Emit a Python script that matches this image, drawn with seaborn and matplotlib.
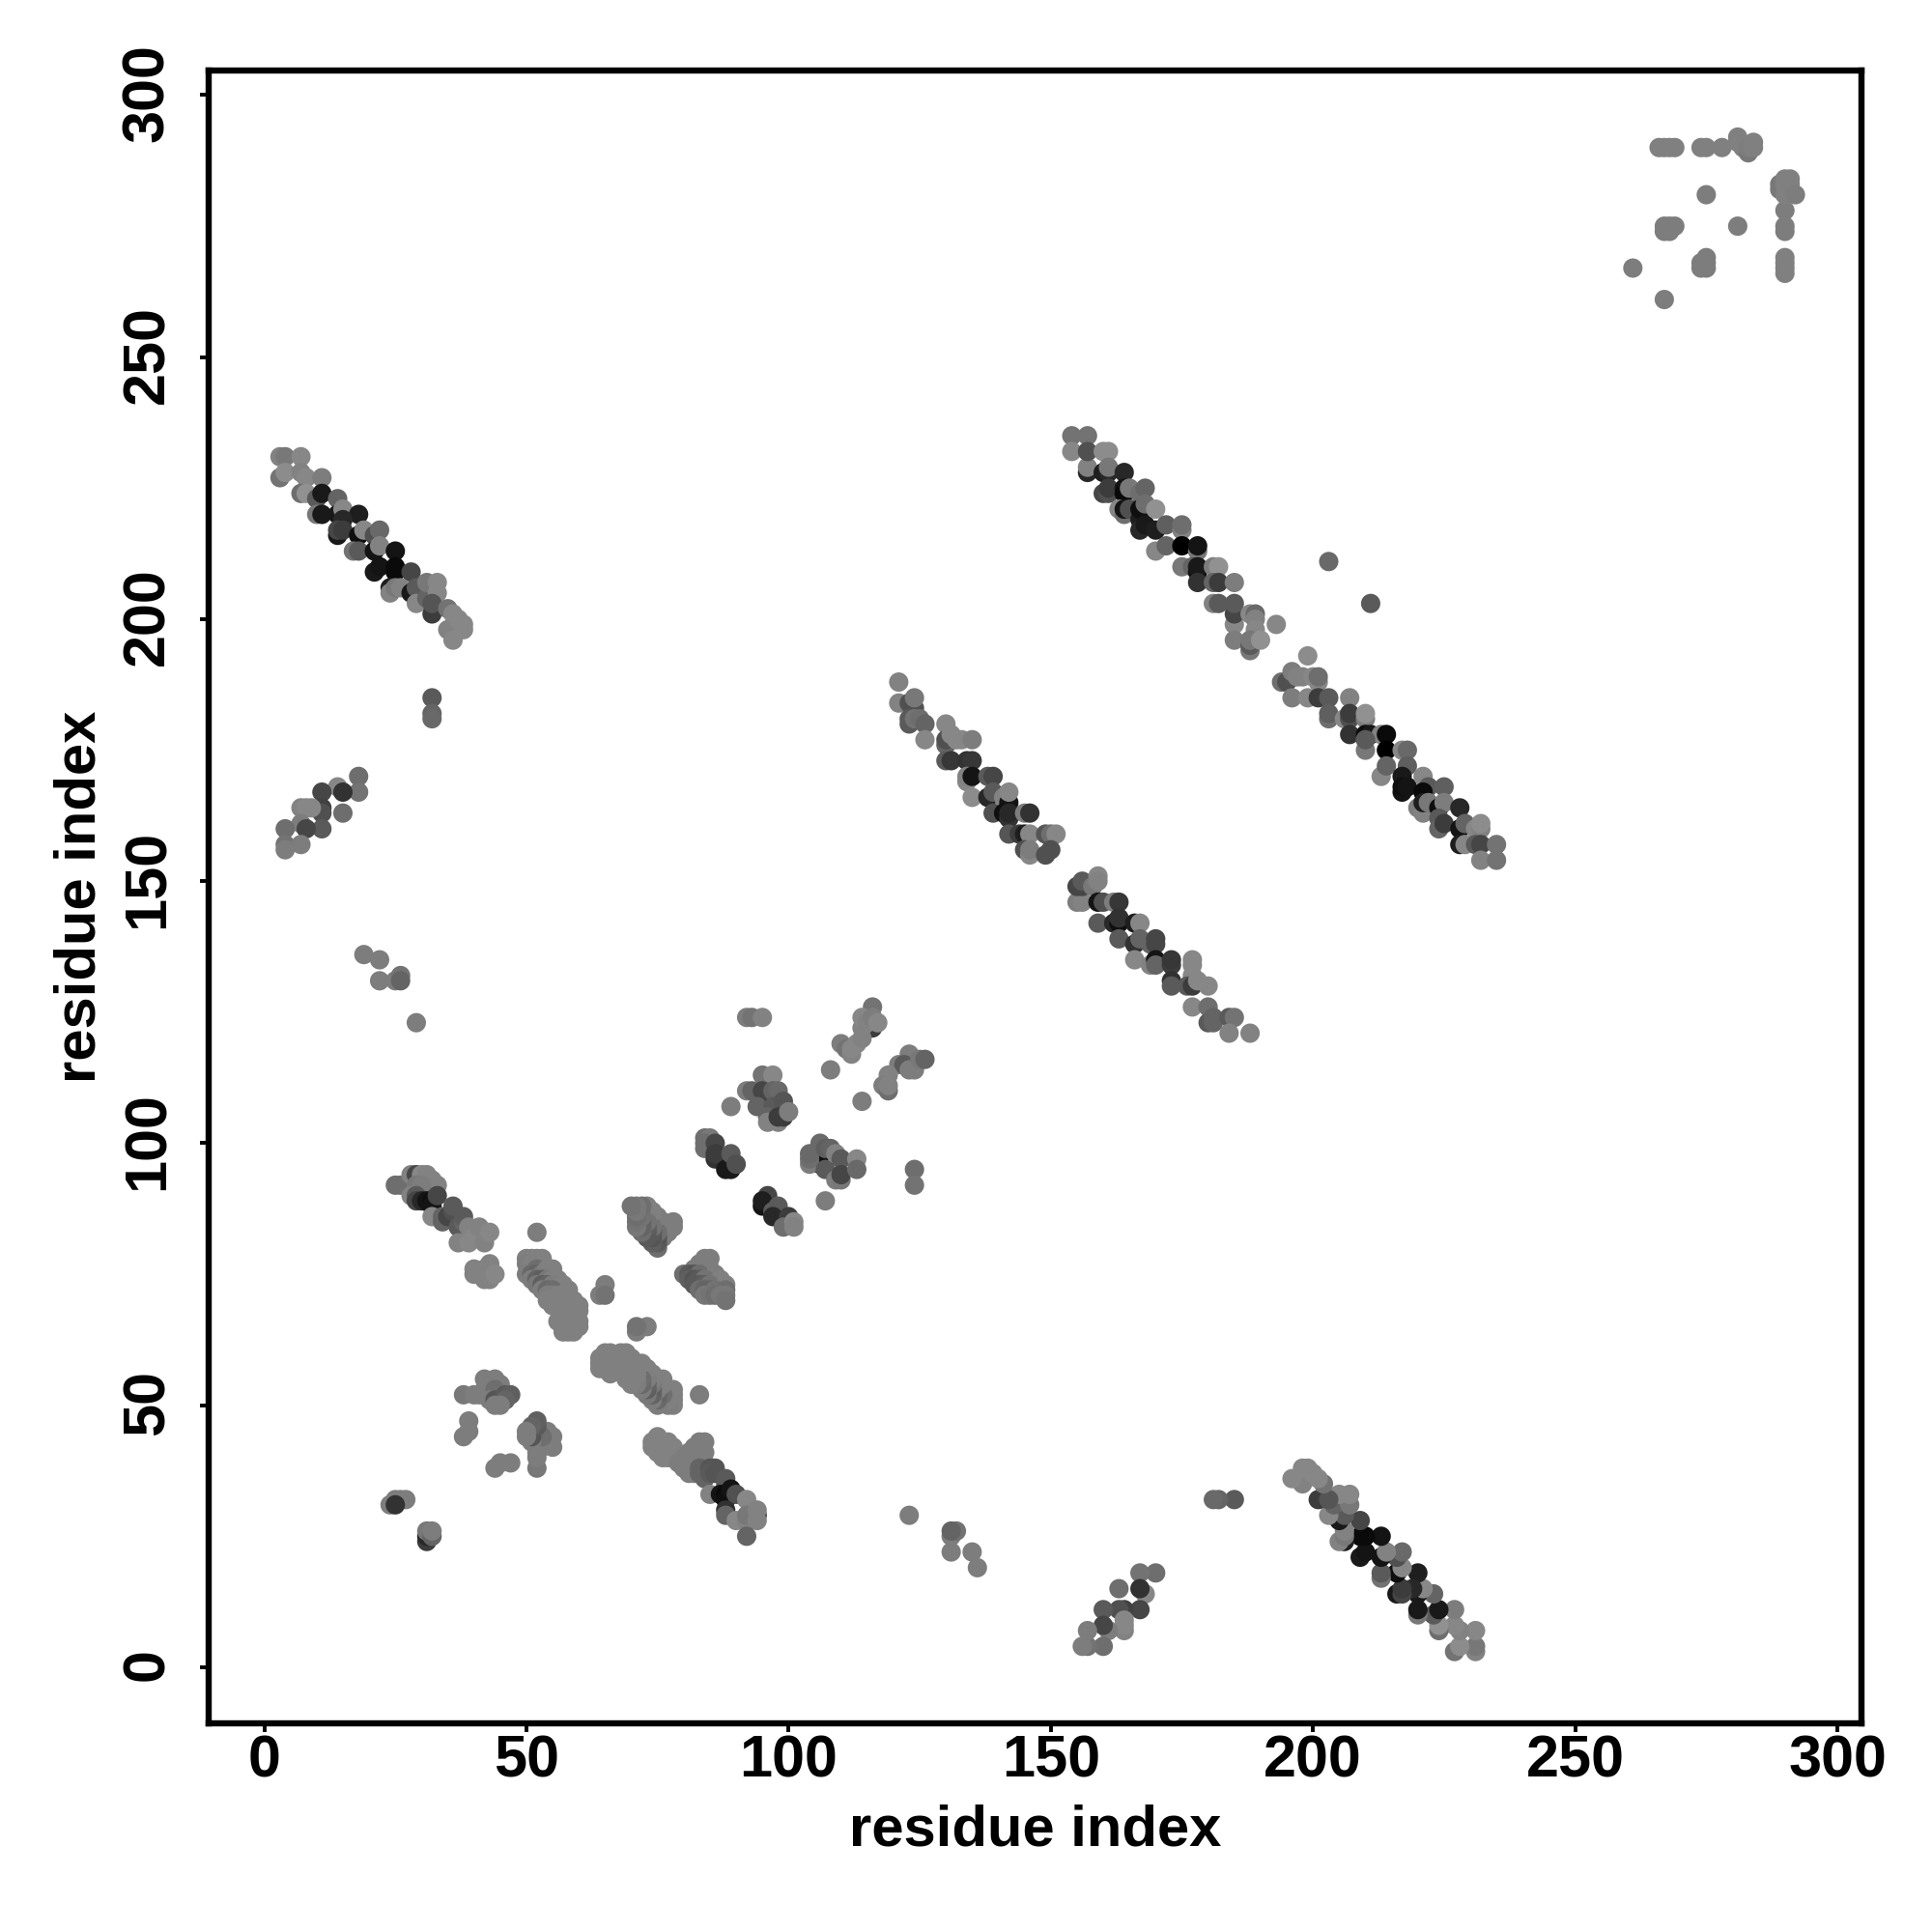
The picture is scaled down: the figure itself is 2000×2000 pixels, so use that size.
import pandas as pd
import matplotlib
matplotlib.use("Agg")
import matplotlib.pyplot as plt
from matplotlib.transforms import ScaledTranslation
import seaborn as sns

# (residue i, residue j, grey level)
strand_b = [(154,235,115),(157,235,115),(154,232,135),(157,228,40),(157,229,130),(157,232,80),(160,232,140),(161,232,140),
    (160,228,30),(161,228,40),(161,229,120),(164,228,40),(160,224,70),(161,224,80),(161,225,60),(164,225,20),(164,224,10),
    (165,225,120),(167,224,110),(168,225,100),(163,221,135),(164,220,110),(164,221,20),(165,221,80),(167,219,30),(167,217,40),
    (167,221,15),(168,218,25),(170,217,30),(168,222,110),(170,221,145),(172,218,95),(175,217,130),(175,218,110),
    (170,213,135),(172,214,100),(175,214,0),(178,213,120),(178,214,20),(175,210,120),(177,210,100),(178,209,15),(178,210,25),
    (181,210,125),(182,210,145),(178,207,50),(181,207,100),(182,207,60),(185,207,125),(181,203,130),(182,203,90),
    (185,199,135),(185,201,70),(185,203,90),(185,196,125),(188,201,135),(189,201,105),(189,200,130),(189,198,135),
    (188,194,120),(188,195,90),(188,196,120),(190,196,145),(193,199,135),(203,211,105),(211,203,90),(199,193,140),
    (194,188,110),(195,188,80),(196,190,125),(196,185,125),(197,189,130),(198,189,130),(200,189,135),(201,188,135),(201,189,110),
    (199,185,135),(201,185,60),(203,185,90),(203,181,110),(203,182,95),(207,185,130),(206,181,135),(207,181,80),(207,182,60),
    (210,181,125),(210,182,145),(207,178,50),(210,178,15),(211,178,25),(213,178,130),(214,178,10),(210,175,120),(210,177,90),
    (214,175,0),(213,170,135),(214,172,100),(217,175,135),(218,175,105),(218,172,95),(217,167,20),(217,170,25),(217,168,15),
    (218,168,20),(221,170,135),(222,168,90),(221,167,10),(225,168,95),(220,164,125),(221,163,130),(221,165,30),(222,165,120),
    (224,164,15),(225,165,125),(224,162,90),(224,160,100),(225,161,60),(228,164,40),(228,160,20),(229,161,100),(231,160,135),
    (232,160,130),(232,161,140),(228,157,30),(229,157,135),(231,157,90),(232,157,70),(235,157,115),(232,154,130),(235,154,115)]
strand_c = [(121,188,130),(121,184,130),(123,184,80),(124,183,80),(124,185,120),(123,180,90),(123,181,90),(124,181,115),
    (125,181,110),(126,180,100),(126,177,135),(130,180,135),(130,176,100),(130,177,80),(131,178,135),(132,177,135),
    (133,177,135),(135,177,125),(130,173,90),(131,173,55),(134,173,50),(135,173,55),(134,169,135),(134,170,130),(135,170,20),
    (135,166,140),(138,170,90),(139,170,70),(138,166,40),(139,167,90),(139,163,80),(141,166,130),(142,165,20),(142,167,135),
    (141,163,15),(142,162,50),(142,163,40),(145,163,125),(146,163,50),(142,159,85),(144,159,60),(145,159,30),(146,159,135),
    (145,156,80),(146,155,135),(146,156,125),(149,159,85),(150,159,110),(151,159,135),(149,155,80),(150,156,80),
    (155,146,125),(156,146,130),(155,149,70),(156,149,70),(156,150,90),(158,149,120),(159,151,135),(159,146,20),(159,150,130),
    (160,146,80),(159,142,90),(162,146,125),(163,146,55),(162,142,40),(163,142,15),(163,143,50),(163,139,90),
    (166,142,30),(167,142,135),(166,138,50),(167,139,100),(169,138,100),(170,138,70),(170,139,70),(166,135,135),
    (169,134,130),(170,135,20),(170,134,100),(173,134,60),(173,135,55),(173,131,50),(173,130,90),(177,135,135),(177,134,135),
    (177,132,135),(176,130,90),(177,130,60),(178,131,135),(180,130,135),(177,126,135),(180,126,110),(180,123,90),(181,123,100),
    (181,124,100),(184,124,90),(185,124,115),(184,121,130),(188,121,130)]
strand_d = [(25,92,110),(26,92,110),(28,94,130),(29,94,70),(30,94,135),(31,94,130),(32,93,130),(33,92,130),(29,92,120),
    (30,92,125),(28,90,130),(29,90,90),(29,89,70),(30,89,40),(31,89,20),(32,89,15),(32,88,20),(33,90,70),(32,86,135),
    (34,85,100),(34,86,100),(35,86,70),(36,87,80),(36,88,90),(37,84,90),(38,85,100),(38,86,90),(37,81,130),(39,84,130),
    (39,81,135),(40,82,135),(41,84,130),(42,81,130),(43,83,135),(40,76,130),(40,75,130),(41,75,130),(42,76,130),(42,74,130),
    (43,77,130),(43,76,130),(43,74,130),(44,75,135),
    (75,44,130),(74,43,130),(74,42,130),(75,43,130),(75,41,130),(76,43,130),(76,41,130),(77,43,130),(77,41,130),(78,42,130),
    (78,41,130),(76,40,130),(77,40,130),(78,40,130),(83,43,125),(84,43,125),(82,42,125),(83,42,125),(81,41,125),(82,41,125),
    (80,40,125),(81,40,125),(82,40,125),(84,41,125),(83,40,125),(84,39,125),(79,39,125),(80,39,125),(80,38,125),(81,38,125),
    (81,37,125),(82,37,125),(83,38,100),(83,37,100),(84,36,100),(85,38,85),(86,38,85),(85,37,90),(86,37,85),(88,36,90),
    (88,35,90),(85,33,130),(87,33,20),(88,33,10),(88,32,15),(89,34,20),(90,33,80),(88,30,50),(88,29,100),(90,28,135),
    (94,29,45),(92,32,135),(92,28,130),(92,29,120),(94,30,130),(94,28,130),(92,25,100)]
block_e = [(95,107,15),(106,96,15),(92,124,125),(93,124,115),(95,124,130),(116,126,115),(116,122,60),(114,122,130),(114,124,135),
    (115,123,130),(116,124,125),(117,123,135),(110,119,125),(111,118,115),(112,117,130),(112,118,135),(113,119,135),(114,120,130),
    (108,114,125),(114,108,125),(123,117,125),(121,115,125),(122,115,90),(123,114,125),(124,114,125),(125,116,120),(126,116,100),
    (119,113,130),(118,111,125),(119,110,110),(119,111,130),(95,113,115),(97,113,135),(92,110,125),(93,110,100),(95,110,70),
    (97,110,100),(98,110,105),(94,107,100),(97,107,90),(99,108,85),(96,105,100),(96,104,130),(98,104,130),
    (98,105,60),(99,105,60),(100,106,125),(89,107,125),
    (84,101,110),(85,101,120),(84,99,110),(84,100,110),(86,100,70),(86,97,50),(86,98,60),(88,95,25),(89,95,25),(89,98,90),(90,96,80),
    (104,96,125),(104,97,110),(104,98,105),(106,100,105),(107,99,95),(108,99,100),(107,95,90),(109,98,130),
    (110,97,90),(109,93,125),(110,93,120),(110,94,70),(113,97,135),(113,95,105),(124,95,110),(124,92,115),(107,89,125),
    (96,90,70),(95,88,20),(95,89,30),(98,88,90),(97,87,90),(97,86,40),(100,86,60),(99,84,110),(101,85,135),(101,84,130)]
corner_f = [(266,290,128),(267,290,128),(268,290,128),(269,290,128),(274,290,128),(275,290,128),(278,290,128),(281,292,128),
    (281,291,128),(282,290,128),(283,289,120),(283,290,125),(284,291,128),(284,290,128),(275,281,125),(281,275,125),
    (267,275,125),(267,274,125),(268,274,125),(268,275,125),(269,275,125),(275,269,125),(274,268,125),(275,268,125),
    (274,267,125),(275,267,125),(261,267,125),(267,261,125),(290,278,125),(290,275,125),(290,274,125),(290,269,128),
    (290,268,128),(290,267,128),(290,266,128),(289,283,120),(289,282,120),(290,284,128),(291,284,128),(290,283,128),
    (291,283,128),(291,282,128),(290,281,128),(292,281,125)]
small_g = [(24,31,125),(25,32,125),(26,32,125),(27,32,125),(25,31,50),(31,24,60),(31,25,40),(31,26,120),(32,25,100),(32,26,125)]

# these groups also get drawn with i and j swapped
strand_a = [(3,231,130),(4,231,120),(7,231,135),(3,227,115),(4,228,140),(7,228,130),(8,227,135),(11,227,125),
    (7,224,110),(8,224,145),(10,223,90),(11,224,25),(14,223,100),(10,220,120),(11,220,25),(14,220,25),(15,221,135),
    (18,220,30),(15,219,40),(14,216,25),(14,217,70),(15,217,60),(18,216,15),(19,217,135),(21,216,80),(22,217,105),
    (17,213,115),(18,213,90),(21,213,20),(22,214,130),(25,213,20),(21,209,25),(22,210,20),(25,210,10),(25,209,10),
    (28,209,70),(24,206,30),(24,205,130),(25,206,120),(26,206,130),(28,205,25),(29,206,90),(29,203,135),(31,204,100),
    (31,207,120),(33,207,135),(33,205,135),(32,201,60),(32,203,85),(35,202,115),(35,198,130),(36,196,135),(36,201,135),
    (37,200,135),(38,199,135),(38,198,135)]
strand_h = [(18,170,110),(18,167,115),(14,168,135),(15,167,50),(11,167,70),(11,164,65),(11,163,80),(11,160,90),(7,164,130),
    (8,164,135),(9,164,135),(15,163,110),(7,161,125),(8,160,70),(4,160,110),(4,157,115),(4,156,125),(7,157,125)]
scattered_i = [(32,185,90),(32,182,100),(32,181,105),(19,136,125),(22,135,125),(22,131,125),(25,131,125),(26,132,115),
    (26,131,100),(29,123,125),(65,73,125),(64,71,125),(65,71,115),(52,83,125)]
blob_j = [(38,52,120),(40,52,125),(41,52,125),(42,52,125),(42,53,125),(42,55,125),(43,54,125),(44,55,125),(45,54,125),
    (44,53,110),(43,51,125),(44,51,85),(45,51,85),(46,52,90),(47,52,95),(46,51,100),(44,50,125),(45,50,125),
    (39,47,125),(39,45,125),(38,44,125)]
blob_k = [(50,78,128),(51,78,128),(52,78,128),(53,78,128),(50,77,125),(51,77,128),(52,76,110),(50,75,125),(51,75,105),
    (52,75,100),(53,75,125),(54,76,128),(55,76,128),(51,74,125),(52,74,100),(53,74,95),(54,74,120),(55,74,128),(56,74,128),
    (52,73,120),(53,73,95),(54,73,100),(55,73,125),(57,73,128),(53,72,125),(54,72,105),(55,72,110),(58,72,128),(54,71,125),
    (55,71,125),(56,71,128),(58,71,128),(59,70,128),(54,70,128),(55,69,128),(56,69,128),(57,68,128),(60,69,128),(60,68,128),
    (59,67,128),(57,67,128),(58,66,128),(60,66,128),(56,66,128),(57,65,128),(58,65,128),(59,65,128),(60,65,128),(57,64,128),
    (58,64,128),(59,64,128)]
blob_l = [(84,78,125),(85,78,125),(83,77,125),(84,77,125),(82,76,125),(83,76,125),(85,76,125),(80,75,110),(81,75,90),(82,75,85),
    (83,75,110),(86,75,125),(81,74,95),(82,74,85),(83,74,90),(84,74,115),(87,74,128),(82,73,90),(83,73,90),(84,73,95),(85,73,115),
    (88,73,128),(83,72,110),(84,72,100),(85,72,100),(86,72,115),(88,72,110),(84,71,120),(85,71,115),(86,71,110),(87,71,120),
    (88,71,120),(88,70,115)]

tick_values = [0, 50, 100, 150, 200, 250, 300]
axis_label = "residue index"

mirrored = strand_a + strand_h + scattered_i + blob_j + blob_k + blob_l
rows = strand_b + strand_c + strand_d + block_e + corner_f + small_g + mirrored
rows = rows + [(j, i, g) for i, j, g in mirrored]
df = pd.DataFrame(rows, columns=["i", "j", "grey"])

sns.set_style("white")
plt.rcParams["font.family"] = ["Liberation Sans"]
plt.rcParams["font.weight"] = "bold"

fig = plt.figure(figsize=(10, 10), dpi=200)
ax = fig.add_axes([0.108, 0.108, 0.8555, 0.8555])
sns.scatterplot(data=df, x="i", y="j", hue="grey", hue_norm=(0, 255), palette="gray",
                s=52, linewidth=0, legend=False, ax=ax)
ax.set_xlim(-10.6, 304.6)
ax.set_ylim(-10.7, 304.7)
ax.set_xticks(tick_values)
ax.set_yticks(tick_values)
ax.tick_params(axis="x", length=3.1, width=1.4, pad=1, labelsize=22, bottom=True, color="black", labelcolor="black")
ax.tick_params(axis="y", length=3.1, width=1.4, pad=9, labelsize=22, left=True, color="black", labelcolor="black")
nudge = ScaledTranslation(0, 0.9 / 72, fig.dpi_scale_trans)
for lab in ax.get_yticklabels():
    lab.set_rotation(90)
    lab.set_va("center")
    lab.set_transform(lab.get_transform() + nudge)
for spine in ax.spines.values():
    spine.set_linewidth(2.3)
    spine.set_color("black")
ax.set_xlabel(axis_label, fontsize=21.5, fontweight="bold", color="black", labelpad=5.3)
ax.set_ylabel(axis_label, fontsize=21.5, fontweight="bold", color="black", labelpad=5.3)
fig.savefig("out.png", dpi=200)
